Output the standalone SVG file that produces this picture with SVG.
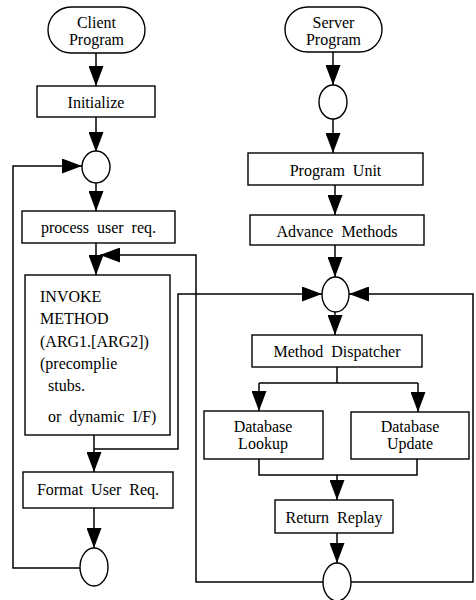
<svg xmlns="http://www.w3.org/2000/svg" width="476" height="600" viewBox="0 0 476 600">
<style>
.box{fill:#fff;stroke:#000;stroke-width:1.4}
.ln{fill:none;stroke:#000;stroke-width:1.5}
.ar{fill:none;stroke:#000;stroke-width:1.5;marker-end:url(#ah)}
text{font-family:"Liberation Serif","Times New Roman",serif;font-size:16px;fill:#000;word-spacing:4px}
.c{text-anchor:middle}
</style>
<defs>
<marker id="ah" viewBox="0 0 20 15" refX="20" refY="7.5" markerWidth="20" markerHeight="15" markerUnits="userSpaceOnUse" orient="auto">
<path d="M0,0 L20,7.5 L0,15 Z" fill="#000"/>
</marker>
</defs>
<rect width="476" height="600" fill="#fff"/>
<g id="connectors">
<line class="ar" x1="96" y1="53" x2="96" y2="86"/>
<line class="ar" x1="96" y1="117" x2="96" y2="152"/>
<line class="ar" x1="96" y1="183" x2="96" y2="211"/>
<line class="ar" x1="96" y1="243" x2="96" y2="275"/>
<polyline class="ar" points="323,582 196,582 196,255 100,255"/>
<line class="ar" x1="94" y1="435" x2="94" y2="472"/>
<polyline class="ar" points="94,449 178,449 178,294 322,294"/>
<line class="ar" x1="94" y1="508" x2="94" y2="548"/>
<polyline class="ar" points="80,568 13,568 13,166 82,166"/>
<line class="ar" x1="333" y1="52" x2="333" y2="85"/>
<line class="ar" x1="333" y1="119" x2="333" y2="153"/>
<line class="ar" x1="335" y1="185" x2="335" y2="215"/>
<line class="ar" x1="335" y1="245" x2="335" y2="277"/>
<line class="ar" x1="335" y1="312" x2="335" y2="335"/>
<line class="ln" x1="337" y1="367" x2="337" y2="383"/>
<line class="ln" x1="259" y1="383" x2="418" y2="383"/>
<line class="ar" x1="259" y1="383" x2="259" y2="411"/>
<line class="ar" x1="418" y1="383" x2="418" y2="412"/>
<polyline class="ln" points="259,459 259,475 417,475 417,459"/>
<line class="ar" x1="337" y1="475" x2="337" y2="500"/>
<line class="ar" x1="337" y1="533" x2="337" y2="563"/>
<polyline class="ar" points="351,582 473,582 473,294 349,294"/>
</g>
<g id="client-program">
<rect class="box" x="48" y="7" width="97" height="46" rx="23" ry="23"/>
<text class="c" x="96.5" y="28">Client</text>
<text class="c" x="96.5" y="45">Program</text>
</g>
<g id="initialize">
<rect class="box" x="37" y="86" width="118" height="31"/>
<text class="c" x="96" y="108">Initialize</text>
</g>
<g id="client-junction-top">
<ellipse class="box" cx="96" cy="167" rx="14" ry="16"/>
</g>
<g id="process-user-req">
<rect class="box" x="22" y="211" width="153" height="32"/>
<text class="c" x="98.5" y="233">process user req.</text>
</g>
<g id="invoke-method">
<rect class="box" x="25" y="275" width="145" height="160"/>
<text x="40" y="302">INVOKE</text>
<text x="40" y="324">METHOD</text>
<text x="40" y="347">(ARG1.[ARG2])</text>
<text x="40" y="369">(precomplie</text>
<text x="48" y="391">stubs.</text>
<text x="48" y="422">or dynamic I/F)</text>
</g>
<g id="format-user-req">
<rect class="box" x="23" y="472" width="150" height="36"/>
<text class="c" x="98" y="495">Format User Req.</text>
</g>
<g id="client-junction-bottom">
<ellipse class="box" cx="94" cy="567" rx="14" ry="19"/>
</g>
<g id="server-program">
<rect class="box" x="285" y="7" width="97" height="45" rx="22.5" ry="22.5"/>
<text class="c" x="333.5" y="28">Server</text>
<text class="c" x="333.5" y="45">Program</text>
</g>
<g id="server-junction-top">
<ellipse class="box" cx="333" cy="102" rx="14" ry="17"/>
</g>
<g id="program-unit">
<rect class="box" x="248" y="153" width="175" height="32"/>
<text class="c" x="335.5" y="176">Program Unit</text>
</g>
<g id="advance-methods">
<rect class="box" x="250" y="215" width="174" height="30"/>
<text class="c" x="337" y="237">Advance Methods</text>
</g>
<g id="server-junction-mid">
<ellipse class="box" cx="335.5" cy="294.5" rx="13.5" ry="17.5"/>
</g>
<g id="method-dispatcher">
<rect class="box" x="252" y="335" width="170" height="32"/>
<text class="c" x="337" y="357">Method Dispatcher</text>
</g>
<g id="database-lookup">
<rect class="box" x="204" y="411" width="119" height="48"/>
<text class="c" x="263" y="432">Database</text>
<text class="c" x="263" y="449">Lookup</text>
</g>
<g id="database-update">
<rect class="box" x="351" y="412" width="118" height="47"/>
<text class="c" x="410" y="432">Database</text>
<text class="c" x="410" y="449">Update</text>
</g>
<g id="return-replay">
<rect class="box" x="275" y="500" width="118" height="33"/>
<text class="c" x="334" y="523">Return Replay</text>
</g>
<g id="server-junction-bottom">
<ellipse class="box" cx="337" cy="582" rx="14" ry="19"/>
</g>
</svg>
